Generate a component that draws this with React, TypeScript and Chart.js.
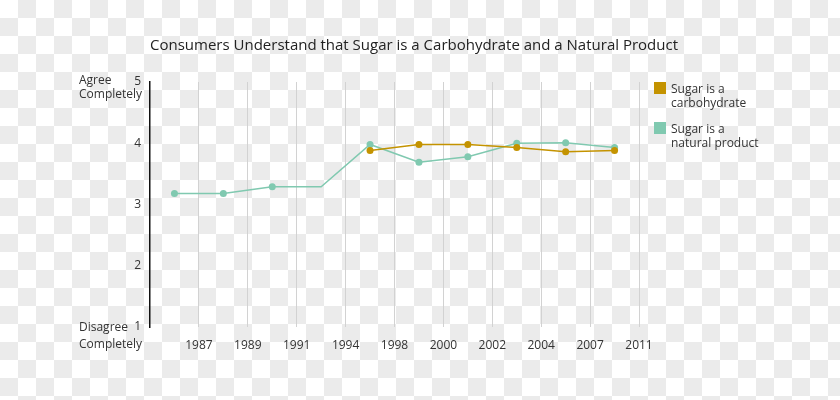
import React, { useEffect, useRef } from "react";
import { Chart, registerables } from "chart.js";

Chart.register(...registerables);

const titleText = "Consumers Understand that Sugar is a Carbohydrate and a Natural Product";
const years = ["1987", "1989", "1991", "1994", "1998", "2000", "2002", "2004", "2007", "2011"];
const naturalProduct = [3.18, 3.18, 3.29, 3.29, 3.98, 3.69, 3.78, 4.0, 4.01, 3.93];
const naturalHasMarker = [true, true, true, false, true, true, true, true, true, true];
const carbohydrate: (number | null)[] = [null, null, null, null, 3.88, 3.98, 3.98, 3.93, 3.86, 3.88];
const yTicks = [1, 2, 3, 4, 5];
const legendLabels = [
  ["Sugar is a", "carbohydrate"],
  ["Sugar is a", "natural product"],
];

const GOLD = "#c49300";
const TEAL = "#80c9b0";
const FONT = "'Open Sans', sans-serif";

export default function App() {
  const ref = useRef<HTMLCanvasElement | null>(null);

  useEffect(() => {
    if (!ref.current) return;
    const overlay = {
      id: "overlay",
      afterDraw(chart: any) {
        const ctx = chart.ctx;
        const ys = chart.scales.y;
        ctx.save();
        ctx.fillStyle = "#222";
        ctx.font = `15px ${FONT}`;
        ctx.textAlign = "center";
        ctx.textBaseline = "middle";
        ctx.fillText(titleText, 414, 46);

        ctx.font = `12px ${FONT}`;
        ctx.fillStyle = "#333";
        ctx.textAlign = "left";
        const top = ys.getPixelForValue(5);
        const bot = ys.getPixelForValue(1);
        ctx.fillText("Agree", 79, top - 1);
        ctx.fillText("Completely", 79, top + 13);
        ctx.fillText("Disagree", 79, bot + 1);
        ctx.fillText("Completely", 79, bot + 18);

        const colors = [GOLD, TEAL];
        const boxTops = [82, 122];
        legendLabels.forEach((lines, i) => {
          ctx.fillStyle = colors[i];
          ctx.fillRect(654, boxTops[i], 12, 12);
          ctx.fillStyle = "#333";
          lines.forEach((ln, j) => ctx.fillText(ln, 671, boxTops[i] + 8 + j * 14));
        });
        ctx.restore();
      },
    };

    const chart = new Chart(ref.current, {
      type: "line",
      data: {
        datasets: [
          {
            label: "Sugar is a carbohydrate",
            data: carbohydrate.map((v, i) => ({ x: i, y: v })) as any,
            borderColor: GOLD,
            backgroundColor: GOLD,
            borderWidth: 1.5,
            pointRadius: 3.5,
            pointBorderWidth: 0,
            tension: 0,
            spanGaps: false,
          },
          {
            label: "Sugar is a natural product",
            data: naturalProduct.map((v, i) => ({ x: i, y: v })),
            borderColor: TEAL,
            backgroundColor: TEAL,
            borderWidth: 1.5,
            pointRadius: naturalHasMarker.map((m) => (m ? 3.5 : 0)),
            pointBorderWidth: 0,
            tension: 0,
          },
        ],
      },
      options: {
        responsive: false,
        animation: false,
        layout: { padding: { left: 0, right: 201, top: 82, bottom: 0 } },
        plugins: { legend: { display: false }, title: { display: false }, tooltip: { enabled: false } },
        scales: {
          x: {
            type: "linear",
            min: -0.5,
            max: 9.5,
            afterBuildTicks: (scale: any) => {
              scale.ticks = years.map((_, i) => ({ value: i + 0.5 }));
            },
            afterFit: (scale: any) => {
              scale.height = 73;
            },
            ticks: {
              autoSkip: false,
              maxRotation: 0,
              color: "#333",
              font: { family: FONT, size: 12 },
              padding: 11,
              callback: (_v: any, i: number) => years[i],
            },
            grid: { color: "#d2d2d2", lineWidth: 1, drawTicks: false },
            border: { display: false },
          },
          y: {
            min: 1,
            max: 5,
            afterBuildTicks: (scale: any) => {
              scale.ticks = yTicks.map((v) => ({ value: v }));
            },
            afterFit: (scale: any) => {
              scale.width = 150;
            },
            ticks: {
              color: "#333",
              font: { family: FONT, size: 12 },
              padding: 9,
            },
            grid: { display: false, drawTicks: false },
            border: { display: true, color: "#111", width: 1.5 },
          },
        },
      },
      plugins: [overlay],
    });
    return () => chart.destroy();
  }, []);

  return (
    <div
      style={{
        position: "fixed",
        left: 0,
        top: 0,
        width: 840,
        height: 400,
        background: "repeating-conic-gradient(#ebebeb 0 25%, #ffffff 0 50%) 0 0 / 36px 36px",
      }}
    >
      <canvas ref={ref} width={840} height={400} style={{ display: "block" }} />
    </div>
  );
}
